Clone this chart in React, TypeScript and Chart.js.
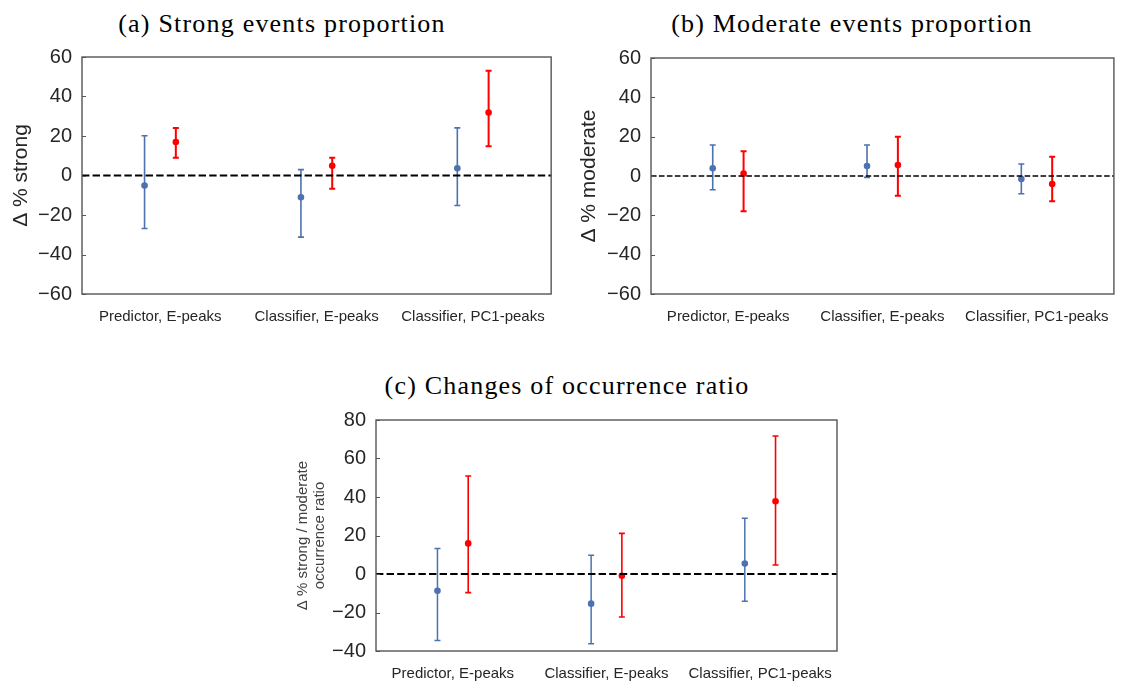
import React, { useEffect, useRef } from 'react';
import { Chart, registerables } from 'chart.js';

Chart.register(...registerables);
Chart.defaults.font.family = '"Liberation Sans", Arial, sans-serif';

// ---------- data ----------
const categories = ['Predictor, E-peaks', 'Classifier, E-peaks', 'Classifier, PC1-peaks'];

// (a) strong events proportion
const strongBlueMean = [-5.1, -11.0, 3.7];
const strongBlueLow = [-26.8, -31.2, -15.2];
const strongBlueHigh = [20.1, 3.0, 24.1];
const strongRedMean = [17.0, 4.9, 31.9];
const strongRedLow = [9.0, -6.7, 14.8];
const strongRedHigh = [24.1, 9.0, 53.1];

// (b) moderate events proportion
const moderateBlueMean = [3.9, 5.1, -1.5];
const moderateBlueLow = [-7.0, -0.7, -9.0];
const moderateBlueHigh = [15.8, 15.8, 6.1];
const moderateRedMean = [1.2, 5.6, -4.1];
const moderateRedLow = [-17.9, -10.0, -12.8];
const moderateRedHigh = [12.6, 19.9, 9.8];

// (c) changes of occurrence ratio
const ratioBlueMean = [-8.7, -15.4, 5.4];
const ratioBlueLow = [-34.6, -36.2, -14.2];
const ratioBlueHigh = [13.3, 9.7, 28.9];
const ratioRedMean = [15.9, -0.9, 37.8];
const ratioRedLow = [-9.7, -22.3, 4.7];
const ratioRedHigh = [50.9, 21.1, 71.7];

const strongYRange = [-60, 60];
const moderateYRange = [-60, 60];
const ratioYRange = [-40, 80];
const yStep = 20;

const titles = ['(a) Strong events proportion', '(b) Moderate events proportion', '(c) Changes of occurrence ratio'];
const yTitles: (string | string[])[] = ['\u0394 % strong', '\u0394 % moderate', ['\u0394 % strong / moderate', 'occurrence ratio']];

// ---------- style ----------
const BLUE = '#4c72b0';
const RED = '#ff0000';
const TEXT = '#262626';
const FRAME = '#555555';
const OFFSET = 0.1;
const CAP = 3;

const errorBarPlugin = {
  id: 'errorBars',
  beforeDatasetsDraw(chart: any) {
    const { ctx, scales } = chart;
    const x = scales.x;
    const y = scales.y;
    chart.data.datasets.forEach((ds: any) => {
      ctx.save();
      ctx.strokeStyle = ds.barColor;
      ctx.lineWidth = ds.barWidth;
      ds.data.forEach((pt: any, i: number) => {
        const px = x.getPixelForValue(pt.x);
        const yl = y.getPixelForValue(ds.errLow[i]);
        const yh = y.getPixelForValue(ds.errHigh[i]);
        ctx.beginPath();
        ctx.moveTo(px, yl);
        ctx.lineTo(px, yh);
        ctx.moveTo(px - CAP, yl);
        ctx.lineTo(px + CAP, yl);
        ctx.moveTo(px - CAP, yh);
        ctx.lineTo(px + CAP, yh);
        ctx.stroke();
      });
      ctx.restore();
    });
  },
  afterDatasetsDraw(chart: any, _args: any, opts: any) {
    const { ctx, chartArea } = chart;
    const y = chart.scales.y;
    const { left, right, top, bottom } = chartArea;
    ctx.save();
    // zero line
    const y0 = y.getPixelForValue(0);
    const lw = opts.zeroWidth || 2;
    ctx.strokeStyle = '#000';
    ctx.lineWidth = lw;
    ctx.setLineDash([3.7 * lw, 1.6 * lw]);
    ctx.beginPath();
    ctx.moveTo(left, y0);
    ctx.lineTo(right, y0);
    ctx.stroke();
    ctx.setLineDash([]);
    // inward ticks
    ctx.strokeStyle = FRAME;
    ctx.lineWidth = 1;
    y.ticks.forEach((t: any) => {
      const py = Math.round(y.getPixelForValue(t.value)) + 0.5;
      ctx.beginPath();
      ctx.moveTo(left, py);
      ctx.lineTo(left + 4, py);
      ctx.stroke();
    });
    // frame
    ctx.lineWidth = 1.4;
    ctx.strokeRect(left, top, right - left, bottom - top);
    ctx.restore();
  },
};

type Panel = {
  left: number; top: number; width: number; height: number;
  padTop: number; padRight: number; yWidth: number; xHeight: number;
  yRange: number[]; yTitle: string | string[]; yTitleSize: number; yTitleLH: number; yTitlePad: number; yTitleColor: string;
  blue: number[][]; red: number[][];
  zeroWidth: number; blueWidth: number; redWidth: number;
};

const panels: Panel[] = [
  {
    left: 0, top: 40, width: 560, height: 300, padTop: 17, padRight: 8, yWidth: 82, xHeight: 46,
    yRange: strongYRange, yTitle: yTitles[0], yTitleSize: 21, yTitleLH: 1.2, yTitlePad: 9, yTitleColor: TEXT,
    blue: [strongBlueMean, strongBlueLow, strongBlueHigh], red: [strongRedMean, strongRedLow, strongRedHigh],
    zeroWidth: 2, blueWidth: 1.6, redWidth: 2,
  },
  {
    left: 560, top: 40, width: 563, height: 300, padTop: 18, padRight: 2, yWidth: 91, xHeight: 46,
    yRange: moderateYRange, yTitle: yTitles[1], yTitleSize: 21, yTitleLH: 1.2, yTitlePad: 17, yTitleColor: TEXT,
    blue: [moderateBlueMean, moderateBlueLow, moderateBlueHigh], red: [moderateRedMean, moderateRedLow, moderateRedHigh],
    zeroWidth: 1.5, blueWidth: 1.6, redWidth: 2,
  },
  {
    left: 280, top: 400, width: 570, height: 284, padTop: 20, padRight: 13, yWidth: 96, xHeight: 33,
    yRange: ratioYRange, yTitle: yTitles[2], yTitleSize: 15, yTitleLH: 1.1, yTitlePad: 15, yTitleColor: '#404040',
    blue: [ratioBlueMean, ratioBlueLow, ratioBlueHigh], red: [ratioRedMean, ratioRedLow, ratioRedHigh],
    zeroWidth: 2, blueWidth: 1.5, redWidth: 1.6,
  },
];

const fmt = (v: number) => (v < 0 ? '\u2212' + Math.abs(v) : String(v));

function ChartPanel({ p }: { p: Panel }) {
  const ref = useRef<HTMLCanvasElement | null>(null);
  useEffect(() => {
    if (!ref.current) return;
    const mk = (series: number[][], off: number, color: string, w: number) => ({
      data: categories.map((_, i) => ({ x: i + off, y: series[0][i] })),
      errLow: series[1],
      errHigh: series[2],
      barColor: color,
      barWidth: w,
      backgroundColor: color,
      borderColor: color,
      borderWidth: 0,
      pointRadius: 3.3,
      pointHoverRadius: 3.3,
    });
    const chart = new Chart(ref.current, {
      type: 'scatter',
      data: {
        datasets: [mk(p.blue, -OFFSET, BLUE, p.blueWidth), mk(p.red, OFFSET, RED, p.redWidth)] as any,
      },
      options: {
        animation: false,
        responsive: false,
        maintainAspectRatio: false,
        events: [],
        layout: { padding: { left: 0, right: p.padRight, top: p.padTop, bottom: 0 } },
        plugins: {
          legend: { display: false },
          tooltip: { enabled: false },
          title: { display: false },
          errorBars: { zeroWidth: p.zeroWidth },
        } as any,
        scales: {
          x: {
            type: 'linear',
            min: -0.5,
            max: 2.5,
            afterBuildTicks: (s: any) => {
              s.ticks = categories.map((_, i) => ({ value: i }));
            },
            afterFit: (s: any) => {
              s.height = p.xHeight;
            },
            ticks: {
              callback: (v: any) => categories[v] ?? '',
              font: { size: 15 },
              color: TEXT,
              padding: 14,
              maxRotation: 0,
              autoSkip: false,
            },
            grid: { display: false, drawTicks: false },
            border: { display: false },
          },
          y: {
            type: 'linear',
            min: p.yRange[0],
            max: p.yRange[1],
            afterFit: (s: any) => {
              s.width = p.yWidth;
            },
            ticks: {
              stepSize: yStep,
              callback: (v: any) => fmt(Number(v)),
              font: { size: 20 },
              color: TEXT,
              padding: 0,
            },
            grid: { display: false, drawTicks: true, tickLength: 10 },
            border: { display: false },
            title: {
              display: true,
              text: p.yTitle as any,
              font: { size: p.yTitleSize, lineHeight: p.yTitleLH },
              color: p.yTitleColor,
              padding: { top: p.yTitlePad, bottom: 0 },
            },
          },
        },
      } as any,
      plugins: [errorBarPlugin],
    });
    return () => chart.destroy();
  }, [p]);
  return (
    <canvas
      ref={ref}
      width={p.width}
      height={p.height}
      style={{ position: 'absolute', left: p.left, top: p.top, width: p.width, height: p.height }}
    />
  );
}

const titlePos = [
  { x: 282, y: 24 },
  { x: 852, y: 24 },
  { x: 567, y: 386 },
];

export default function App() {
  return (
    <div style={{ position: 'fixed', left: 0, top: 0, width: 1123, height: 684, background: '#fff', overflow: 'hidden' }}>
      {titles.map((t, i) => (
        <div
          key={t}
          style={{
            position: 'absolute',
            left: titlePos[i].x,
            top: titlePos[i].y,
            transform: 'translate(-50%, -50%)',
            whiteSpace: 'nowrap',
            fontFamily: '"Liberation Serif", "Times New Roman", serif',
            fontSize: 26,
            letterSpacing: '1.2px',
            lineHeight: 1,
            color: '#000',
          }}
        >
          {t}
        </div>
      ))}
      {panels.map((p, i) => (
        <ChartPanel key={i} p={p} />
      ))}
    </div>
  );
}
